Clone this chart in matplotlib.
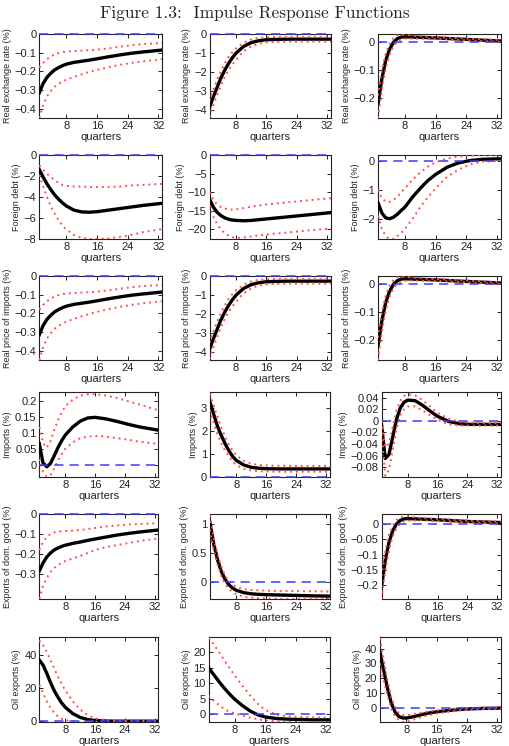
import numpy as np
import matplotlib.pyplot as plt
from matplotlib.ticker import FuncFormatter

quarters = [1, 2, 3, 4, 5, 6, 7, 8, 10, 12, 14, 16, 19, 22, 25, 28, 33]

# Real exchange rate (same responses as real price of imports)
rer_a = [-0.315, -0.265, -0.232, -0.21, -0.192, -0.18, -0.17, -0.162, -0.152, -0.146, -0.14, -0.133, -0.122, -0.112, -0.103, -0.096, -0.086]
rer_a_hi = [-0.18, -0.155, -0.135, -0.12, -0.11, -0.102, -0.097, -0.094, -0.091, -0.089, -0.087, -0.084, -0.077, -0.068, -0.06, -0.054, -0.048]
rer_a_lo = [-0.45, -0.38, -0.335, -0.305, -0.283, -0.267, -0.255, -0.245, -0.23, -0.216, -0.203, -0.192, -0.178, -0.165, -0.155, -0.146, -0.135]
rer_b = [-3.85, -3.3, -2.8, -2.3, -1.9, -1.55, -1.25, -1.0, -0.65, -0.45, -0.35, -0.3, -0.28, -0.27, -0.27, -0.27, -0.27]
rer_b_hi = [-3.5, -2.9, -2.4, -1.95, -1.55, -1.2, -0.95, -0.75, -0.45, -0.28, -0.2, -0.17, -0.15, -0.15, -0.15, -0.15, -0.15]
rer_b_lo = [-4.35, -3.75, -3.2, -2.7, -2.25, -1.9, -1.6, -1.35, -0.9, -0.65, -0.5, -0.44, -0.41, -0.4, -0.4, -0.4, -0.4]
rer_c = [-0.22, -0.13, -0.065, -0.025, 0.0, 0.013, 0.019, 0.02, 0.019, 0.018, 0.017, 0.016, 0.014, 0.012, 0.01, 0.008, 0.005]
rer_c_hi = [-0.19, -0.1, -0.04, -0.005, 0.015, 0.025, 0.028, 0.027, 0.024, 0.022, 0.02, 0.019, 0.017, 0.015, 0.013, 0.011, 0.008]
rer_c_lo = [-0.27, -0.17, -0.095, -0.045, -0.015, 0.002, 0.01, 0.013, 0.014, 0.013, 0.013, 0.012, 0.011, 0.009, 0.007, 0.005, 0.002]

# Foreign debt
debt_a = [-1.4, -2.1, -2.75, -3.3, -3.8, -4.2, -4.55, -4.85, -5.25, -5.42, -5.45, -5.4, -5.25, -5.1, -4.95, -4.8, -4.6]
debt_a_hi = [-1.0, -1.4, -1.8, -2.1, -2.4, -2.65, -2.85, -2.95, -3.0, -3.0, -3.05, -3.05, -3.05, -3.0, -2.9, -2.85, -2.75]
debt_a_lo = [-1.9, -3.0, -4.0, -4.9, -5.6, -6.2, -6.7, -7.1, -7.6, -7.9, -8.0, -8.0, -7.95, -7.8, -7.6, -7.35, -7.05]
debt_b = [-11.8, -14.0, -15.4, -16.3, -16.9, -17.3, -17.5, -17.6, -17.7, -17.6, -17.4, -17.2, -16.9, -16.6, -16.3, -16.0, -15.5]
debt_b_hi = [-10.0, -12.0, -13.3, -14.0, -14.4, -14.6, -14.7, -14.6, -14.3, -13.9, -13.6, -13.3, -13.0, -12.7, -12.4, -12.1, -11.6]
debt_b_lo = [-13.5, -16.5, -18.6, -20.0, -21.0, -21.7, -22.1, -22.3, -22.2, -21.9, -21.6, -21.4, -21.1, -20.8, -20.5, -20.2, -19.8]
debt_c = [-1.45, -1.8, -1.97, -2.0, -1.95, -1.85, -1.72, -1.6, -1.25, -0.95, -0.68, -0.47, -0.22, -0.07, 0.01, 0.05, 0.07]
debt_c_hi = [-1.0, -1.3, -1.4, -1.42, -1.35, -1.25, -1.1, -0.95, -0.65, -0.4, -0.2, -0.05, 0.08, 0.15, 0.18, 0.2, 0.2]
debt_c_lo = [-1.9, -2.35, -2.6, -2.7, -2.7, -2.6, -2.5, -2.35, -2.0, -1.6, -1.25, -0.95, -0.55, -0.3, -0.12, -0.03, 0.0]

# Imports
imp_a = [0.068, 0.008, -0.004, 0.006, 0.03, 0.055, 0.077, 0.095, 0.12, 0.138, 0.148, 0.15, 0.145, 0.137, 0.128, 0.12, 0.11]
imp_a_hi = [0.12, 0.07, 0.055, 0.075, 0.11, 0.14, 0.165, 0.185, 0.205, 0.218, 0.222, 0.222, 0.218, 0.21, 0.2, 0.19, 0.172]
imp_a_lo = [0.02, -0.02, -0.035, -0.03, -0.01, 0.015, 0.035, 0.052, 0.072, 0.085, 0.09, 0.092, 0.09, 0.085, 0.08, 0.074, 0.067]
imp_b = [3.25, 2.7, 2.2, 1.8, 1.45, 1.15, 0.9, 0.72, 0.52, 0.42, 0.38, 0.36, 0.35, 0.35, 0.35, 0.35, 0.35]
imp_b_hi = [3.6, 3.1, 2.6, 2.15, 1.75, 1.42, 1.15, 0.95, 0.7, 0.58, 0.52, 0.5, 0.49, 0.48, 0.48, 0.48, 0.48]
imp_b_lo = [2.9, 2.3, 1.85, 1.45, 1.15, 0.9, 0.68, 0.52, 0.35, 0.28, 0.25, 0.24, 0.23, 0.23, 0.23, 0.23, 0.23]
imp_c = [-0.006, -0.065, -0.058, -0.028, 0.002, 0.022, 0.032, 0.036, 0.035, 0.027, 0.017, 0.008, -0.001, -0.005, -0.006, -0.006, -0.006]
imp_c_hi = [0.0, -0.045, -0.04, -0.01, 0.018, 0.035, 0.043, 0.046, 0.044, 0.036, 0.025, 0.014, 0.004, -0.002, -0.003, -0.004, -0.004]
imp_c_lo = [-0.012, -0.095, -0.085, -0.05, -0.015, 0.01, 0.02, 0.025, 0.025, 0.018, 0.01, 0.002, -0.006, -0.008, -0.008, -0.008, -0.008]

# Exports of domestic good
exp_a = [-0.285, -0.245, -0.215, -0.195, -0.18, -0.17, -0.162, -0.156, -0.147, -0.14, -0.132, -0.125, -0.115, -0.105, -0.097, -0.09, -0.08]
exp_a_hi = [-0.18, -0.14, -0.115, -0.1, -0.092, -0.088, -0.086, -0.085, -0.083, -0.08, -0.075, -0.07, -0.062, -0.057, -0.053, -0.05, -0.046]
exp_a_lo = [-0.425, -0.36, -0.32, -0.29, -0.27, -0.255, -0.245, -0.235, -0.222, -0.21, -0.195, -0.18, -0.165, -0.155, -0.145, -0.135, -0.122]
exp_b = [1.02, 0.65, 0.38, 0.18, 0.04, -0.05, -0.11, -0.15, -0.19, -0.21, -0.22, -0.225, -0.23, -0.235, -0.24, -0.245, -0.25]
exp_b_hi = [1.15, 0.75, 0.47, 0.26, 0.11, 0.01, -0.05, -0.09, -0.13, -0.145, -0.15, -0.155, -0.16, -0.16, -0.165, -0.165, -0.17]
exp_b_lo = [0.9, 0.55, 0.3, 0.1, -0.04, -0.12, -0.18, -0.22, -0.26, -0.275, -0.285, -0.29, -0.295, -0.3, -0.3, -0.3, -0.3]
exp_c = [-0.205, -0.12, -0.06, -0.022, 0.0, 0.012, 0.017, 0.018, 0.017, 0.016, 0.015, 0.014, 0.012, 0.01, 0.008, 0.007, 0.005]
exp_c_hi = [-0.17, -0.09, -0.035, -0.005, 0.013, 0.022, 0.025, 0.025, 0.022, 0.02, 0.018, 0.017, 0.015, 0.013, 0.011, 0.01, 0.008]
exp_c_lo = [-0.245, -0.155, -0.085, -0.04, -0.013, 0.002, 0.009, 0.011, 0.012, 0.012, 0.011, 0.01, 0.009, 0.007, 0.005, 0.004, 0.002]

# Oil exports
oil_a = [37, 34, 29, 23.5, 18.5, 14.5, 11, 8.3, 4.5, 2.2, 0.9, 0.3, 0.0, -0.1, -0.1, -0.1, -0.1]
oil_a_hi = [49, 46, 42, 37, 32, 27, 22.5, 18.5, 12, 7, 3.5, 1.5, 0.5, 0.3, 0.2, 0.2, 0.2]
oil_a_lo = [22, 17, 12, 8, 5, 2.8, 1.4, 0.5, -0.2, -0.4, -0.4, -0.4, -0.3, -0.3, -0.3, -0.3, -0.3]
oil_b = [15, 13.3, 11.7, 10.1, 8.6, 7.2, 5.9, 4.7, 2.7, 1.0, -0.2, -0.9, -1.4, -1.6, -1.7, -1.8, -1.8]
oil_b_hi = [24.5, 23, 21.3, 19.5, 17.7, 15.8, 14, 12.3, 9, 6, 3.3, 1.3, -0.2, -0.7, -0.9, -1.0, -1.1]
oil_b_lo = [6, 4.8, 3.7, 2.7, 1.8, 1.1, 0.6, 0.2, -0.5, -1.1, -1.6, -2.0, -2.3, -2.45, -2.5, -2.5, -2.5]
oil_c = [38, 25, 13, 3, -3, -6, -7, -7, -6, -4.7, -3.6, -2.8, -1.9, -1.2, -0.8, -0.5, -0.3]
oil_c_hi = [47, 32, 18, 7, 0, -3.5, -5, -5.2, -4.4, -3.3, -2.4, -1.8, -1.1, -0.6, -0.3, -0.1, 0.1]
oil_c_lo = [30, 18, 8, -1, -6, -8.5, -9.6, -9.6, -8, -6.3, -5, -4, -2.8, -1.9, -1.3, -0.9, -0.6]

ylabels = ["Real exchange rate (%)", "Foreign debt (%)", "Real price of imports (%)",
           "Imports (%)", "Exports of dom. good (%)", "Oil exports (%)"]
xticks = [8, 16, 24, 32]

panels = [
    [(rer_a, rer_a_lo, rer_a_hi), (rer_b, rer_b_lo, rer_b_hi), (rer_c, rer_c_lo, rer_c_hi)],
    [(debt_a, debt_a_lo, debt_a_hi), (debt_b, debt_b_lo, debt_b_hi), (debt_c, debt_c_lo, debt_c_hi)],
    [(rer_a, rer_a_lo, rer_a_hi), (rer_b, rer_b_lo, rer_b_hi), (rer_c, rer_c_lo, rer_c_hi)],
    [(imp_a, imp_a_lo, imp_a_hi), (imp_b, imp_b_lo, imp_b_hi), (imp_c, imp_c_lo, imp_c_hi)],
    [(exp_a, exp_a_lo, exp_a_hi), (exp_b, exp_b_lo, exp_b_hi), (exp_c, exp_c_lo, exp_c_hi)],
    [(oil_a, oil_a_lo, oil_a_hi), (oil_b, oil_b_lo, oil_b_hi), (oil_c, oil_c_lo, oil_c_hi)],
]

ylims = [
    [(-0.45, 0), (-4.4, 0), (-0.27, 0.03)],
    [(-8, 0), (-22.6, 0), (-2.7, 0.2)],
    [(-0.45, 0), (-4.4, 0), (-0.27, 0.03)],
    [(-0.036, 0.229), (0, 3.68), (-0.097, 0.05)],
    [(-0.425, 0), (-0.3, 1.17), (-0.245, 0.033)],
    [(-0.6, 51), (-2.5, 24.8), (-9.7, 47.9)],
]
yticks = [
    [[-0.4, -0.3, -0.2, -0.1, 0], [-4, -3, -2, -1, 0], [-0.2, -0.1, 0]],
    [[-8, -6, -4, -2, 0], [-20, -15, -10, -5, 0], [-2, -1, 0]],
    [[-0.4, -0.3, -0.2, -0.1, 0], [-4, -3, -2, -1, 0], [-0.2, -0.1, 0]],
    [[0, 0.05, 0.1, 0.15, 0.2], [0, 1, 2, 3], [-0.08, -0.06, -0.04, -0.02, 0, 0.02, 0.04]],
    [[-0.3, -0.2, -0.1, 0], [0, 0.5, 1], [-0.2, -0.15, -0.1, -0.05, 0]],
    [[0, 20, 40], [0, 5, 10, 15, 20], [0, 10, 20, 30, 40]],
]

# axes boxes in pixels (top, bottom) per row, (left, right) per row/column
W, H = 509, 746
row_px = [(34, 118), (155, 239), (276, 360), (392, 477), (514, 599), (637, 722)]
col_px = [
    [(39.3, 162.3), (209.5, 331), (378, 501)],
    [(39.3, 162.3), (209.5, 331), (378, 501)],
    [(39.3, 162.3), (209.5, 331), (378, 501)],
    [(39.3, 158.3), (210, 330), (381.5, 501)],
    [(39.3, 158.3), (210, 330), (381.5, 501)],
    [(39.3, 158.3), (208.5, 330), (380, 501)],
]

fmt = FuncFormatter(lambda v, p: ("%g" % v).replace("-", "\u2212"))
txt = "#222222"

fig = plt.figure(figsize=(W / 100, H / 100), dpi=100)
fig.text(0.5, 1 - 13 / H, "Figure 1.3:  Impulse Response Functions",
         ha="center", va="center", fontsize=12.5, family="cmr10", color=txt)

for r in range(6):
    top, bot = row_px[r]
    for c in range(3):
        left, right = col_px[r][c]
        ax = fig.add_axes([left / W, 1 - bot / H, (right - left) / W, (bot - top) / H])
        mid, lo, hi = panels[r][c]
        ax.plot(quarters, mid, color="black", lw=2.4, zorder=3)
        ax.plot(quarters, lo, color="#ff5050", lw=1.4, ls=(0, (1, 2)), zorder=4)
        ax.plot(quarters, hi, color="#ff5050", lw=1.4, ls=(0, (1, 2)), zorder=4)
        ax.axhline(0, color="#3a3aff", lw=1.1, ls=(0, (6, 4)), zorder=5, clip_on=False)
        ax.set_xlim(1, 33)
        ax.set_ylim(*ylims[r][c])
        ax.set_xticks(xticks)
        ax.set_yticks(yticks[r][c])
        ax.yaxis.set_major_formatter(fmt)
        ax.tick_params(direction="in", length=3, width=0.6, top=True, right=True,
                       labelsize=8, pad=2, labelcolor=txt)
        for lab in ax.get_xticklabels() + ax.get_yticklabels():
            lab.set_family("Liberation Sans")
        for s in ax.spines.values():
            s.set_linewidth(0.8)
            s.set_color("#222222")
        ax.set_xlabel("quarters", fontsize=8, family="Liberation Sans", labelpad=1, color=txt)
        ax.set_ylabel(ylabels[r], fontsize=6.5, family="Liberation Sans", labelpad=2, color=txt)

fig.savefig("out.png", dpi=100)
